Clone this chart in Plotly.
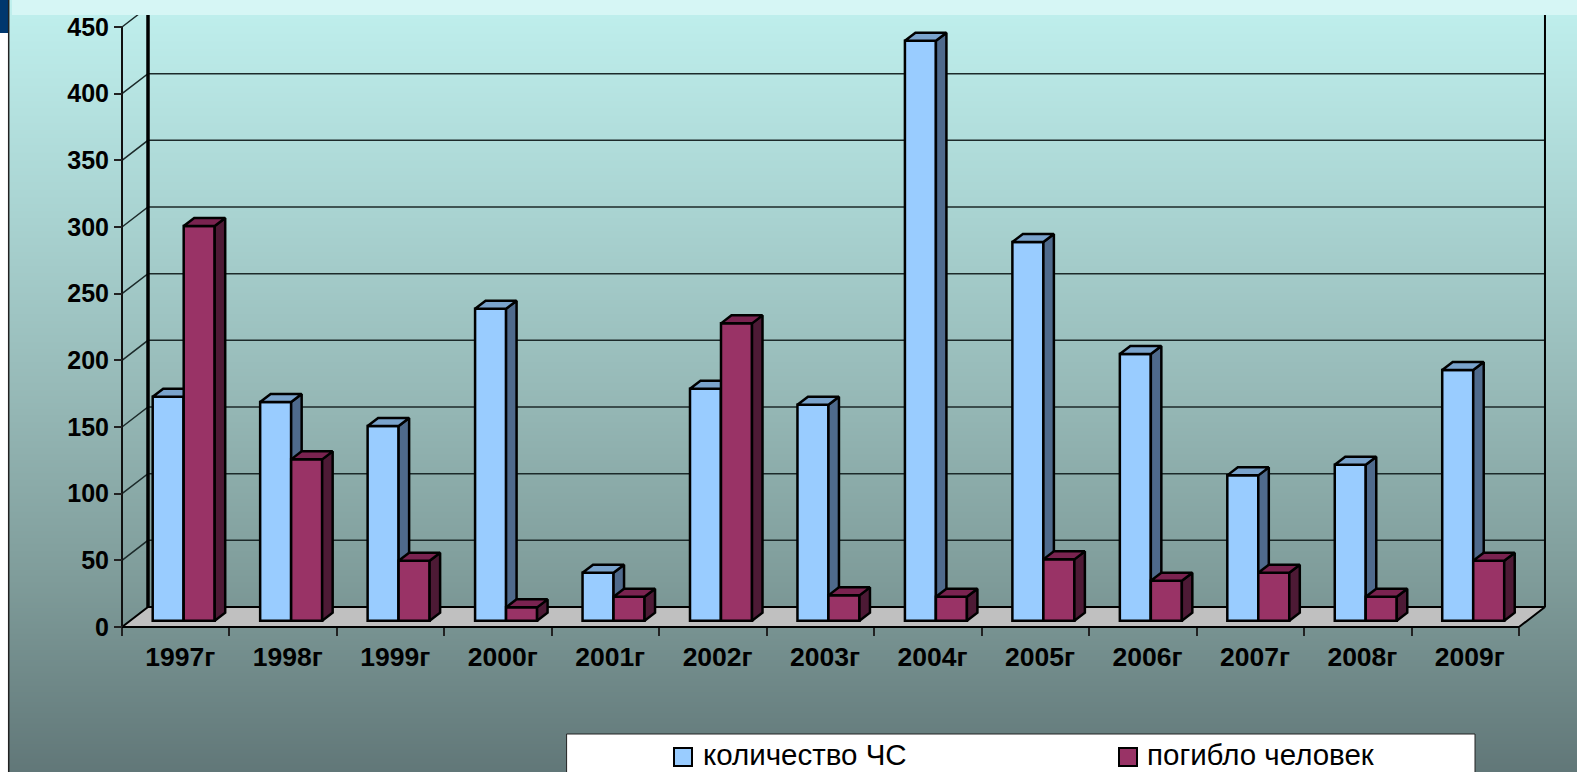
import plotly.graph_objects as go

years = ["1997г","1998г","1999г","2000г","2001г","2002г","2003г","2004г","2005г","2006г","2007г","2008г","2009г"]
incidents = [168, 164, 146, 234, 36, 174, 162, 435, 284, 200, 109, 117, 188]
deaths = [296, 121, 45, 10, 18, 223, 19, 18, 46, 30, 36, 18, 45]
y_ticks = [0, 50, 100, 150, 200, 250, 300, 350, 400, 450]
series_names = ["количество ЧС", "погибло человек"]

W, H = 1577, 772
X0, CAT = 122.0, 107.46
Y0, UNIT = 627.0, 1.3333
xr = [(0 - X0) / CAT, (W - X0) / CAT]
yr = [(Y0 - H) / UNIT, Y0 / UNIT]
DX_WALL, DY_WALL = 26 / CAT, 20 / UNIT
DX_BAR, DY_BAR = 10.5 / CAT, 8 / UNIT
BASE = 6.3 / UNIT
BAR_W = 31 / CAT
BLUE_OFF = 30.7 / CAT
RED_OFF = BLUE_OFF + BAR_W
LAB_OFF = 4.6 / CAT

px = lambda v: v / W
py = lambda v: 1 - v / H

fig = go.Figure()

# background gradient
fig.add_trace(go.Heatmap(
    x=xr, y=yr, z=[[0, 0], [1, 1]], zsmooth="best", showscale=False, hoverinfo="skip",
    colorscale=[[0, "#617778"], [0.25, "#7f9c9a"], [0.5, "#97bab8"], [0.75, "#abd6d4"], [1, "#c0f0ee"]],
    zmin=0, zmax=1, xaxis="x", yaxis="y"))

n = len(years)
# floor
fig.add_trace(go.Scatter(
    x=[0, DX_WALL, n + DX_WALL, n, 0], y=[0, DY_WALL, DY_WALL, 0, 0], mode="lines", fill="toself",
    fillcolor="#c0c0c0", line=dict(color="black", width=2), hoverinfo="skip", showlegend=False))
# gridlines on back wall and left wall
gx, gy = [], []
for v in y_ticks[1:]:
    gx += [0, DX_WALL, n + DX_WALL, None]
    gy += [v, v + DY_WALL, v + DY_WALL, None]
fig.add_trace(go.Scatter(x=gx, y=gy, mode="lines", line=dict(color="#1c2a2a", width=1.5),
                         hoverinfo="skip", showlegend=False))
# walls
fig.add_trace(go.Scatter(x=[0, 0], y=[0, 450], mode="lines", line=dict(color="#111", width=2),
                         hoverinfo="skip", showlegend=False))
fig.add_trace(go.Scatter(x=[DX_WALL, DX_WALL], y=[DY_WALL, yr[1]], mode="lines", line=dict(color="black", width=3.5),
                         hoverinfo="skip", showlegend=False))
fig.add_trace(go.Scatter(x=[n + DX_WALL, n + DX_WALL], y=[DY_WALL, yr[1]], mode="lines",
                         line=dict(color="black", width=2), hoverinfo="skip", showlegend=False))


def add_series(vals, off, front, side, top, xa, ya, name):
    fig.add_trace(go.Bar(x=list(range(n)), y=vals, base=[BASE] * n, width=BAR_W, offset=off, name=name,
                         marker=dict(color=front, line=dict(color="black", width=2.5)),
                         xaxis=xa, yaxis=ya, showlegend=False))
    sx, sy, tx, ty = [], [], [], []
    for i, v in enumerate(vals):
        l = i + off
        r = l + BAR_W
        t = BASE + v
        sx += [r, r + DX_BAR, r + DX_BAR, r, r, None]
        sy += [BASE, BASE + DY_BAR, t + DY_BAR, t, BASE, None]
        tx += [l, r, r + DX_BAR, l + DX_BAR, l, None]
        ty += [t, t, t + DY_BAR, t + DY_BAR, t, None]
    for a, b, c in ((sx, sy, side), (tx, ty, top)):
        fig.add_trace(go.Scatter(x=a, y=b, mode="lines", fill="toself", fillcolor=c,
                                 line=dict(color="black", width=2.5), hoverinfo="skip",
                                 showlegend=False, xaxis=xa, yaxis=ya))


add_series(incidents, BLUE_OFF, "#99ccff", "#4f6a8c", "#7aa3cc", "x2", "y2", series_names[0])
add_series(deaths, RED_OFF, "#993366", "#4d1a35", "#7a2350", "x3", "y3", series_names[1])

hidden = dict(range=xr, domain=[0, 1], visible=False, fixedrange=True)
hiddeny = dict(range=yr, domain=[0, 1], visible=False, fixedrange=True)

shapes = [
    dict(type="rect", xref="paper", yref="paper", x0=px(12), x1=1, y0=py(15), y1=1, fillcolor="#d6f6f5", line_width=0),
    dict(type="rect", xref="paper", yref="paper", x0=0, x1=px(8), y0=0, y1=1, fillcolor="white", line_width=0),
    dict(type="rect", xref="paper", yref="paper", x0=0, x1=px(8), y0=py(33), y1=1, fillcolor="#00376e", line_width=0),
    dict(type="line", xref="paper", yref="paper", x0=px(8.7), x1=px(8.7), y0=0, y1=1, line=dict(color="#222", width=1.5)),
    dict(type="rect", xref="paper", yref="paper", x0=px(566.6), x1=px(1475), y0=-0.01, y1=py(734),
         fillcolor="white", line=dict(color="#222", width=1)),
    dict(type="rect", xref="paper", yref="paper", x0=px(674), x1=px(692), y0=py(766), y1=py(748),
         fillcolor="#99ccff", line=dict(color="black", width=2)),
    dict(type="rect", xref="paper", yref="paper", x0=px(1119), x1=px(1137), y0=py(766), y1=py(748),
         fillcolor="#993366", line=dict(color="black", width=2)),
]
annotations = [
    dict(text=series_names[0], xref="paper", yref="paper", x=px(701), y=py(754.5), xanchor="left", yanchor="middle",
         showarrow=False, font=dict(family="Liberation Sans", size=29.5, color="black")),
    dict(text=series_names[1], xref="paper", yref="paper", x=px(1145), y=py(754.5), xanchor="left", yanchor="middle",
         showarrow=False, font=dict(family="Liberation Sans", size=29.5, color="black")),
]

x_font = dict(family="Liberation Sans", size=26.5, color="black", weight="bold")
y_font = dict(family="Liberation Sans", size=25, color="black", weight="bold")
fig.update_layout(
    width=W, height=H, margin=dict(l=0, r=0, t=0, b=0), autosize=False,
    paper_bgcolor="white", plot_bgcolor="white", barmode="overlay", showlegend=False,
    shapes=shapes, annotations=annotations,
    xaxis=dict(range=xr, domain=[0, 1], anchor="free", position=(H - Y0) / H, showgrid=False, zeroline=False,
               showline=False, tickmode="array", tickvals=[i + 0.5 + LAB_OFF for i in range(n)], ticktext=years,
               ticks="", ticklabelstandoff=11, tickfont=x_font, fixedrange=True,
               minor=dict(tickmode="array", tickvals=list(range(n + 1)), ticks="outside", ticklen=8,
                          tickcolor="#222", tickwidth=1.5, showgrid=False)),
    yaxis=dict(range=yr, domain=[0, 1], anchor="free", position=X0 / W, showgrid=False, zeroline=False,
               showline=False, tickmode="array", tickvals=y_ticks, ticks="outside", ticklen=8,
               tickcolor="#222", tickwidth=1.5, ticklabelstandoff=0, tickfont=y_font, fixedrange=True),
    xaxis2=dict(hidden, overlaying="x", anchor="y2"),
    yaxis2=dict(hiddeny, overlaying="y", anchor="x2"),
    xaxis3=dict(hidden, overlaying="x", anchor="y3"),
    yaxis3=dict(hiddeny, overlaying="y", anchor="x3"),
)

fig.write_html("out.html", config=dict(displayModeBar=False),
               post_script="document.body.style.margin='0';document.body.style.overflow='hidden';")
